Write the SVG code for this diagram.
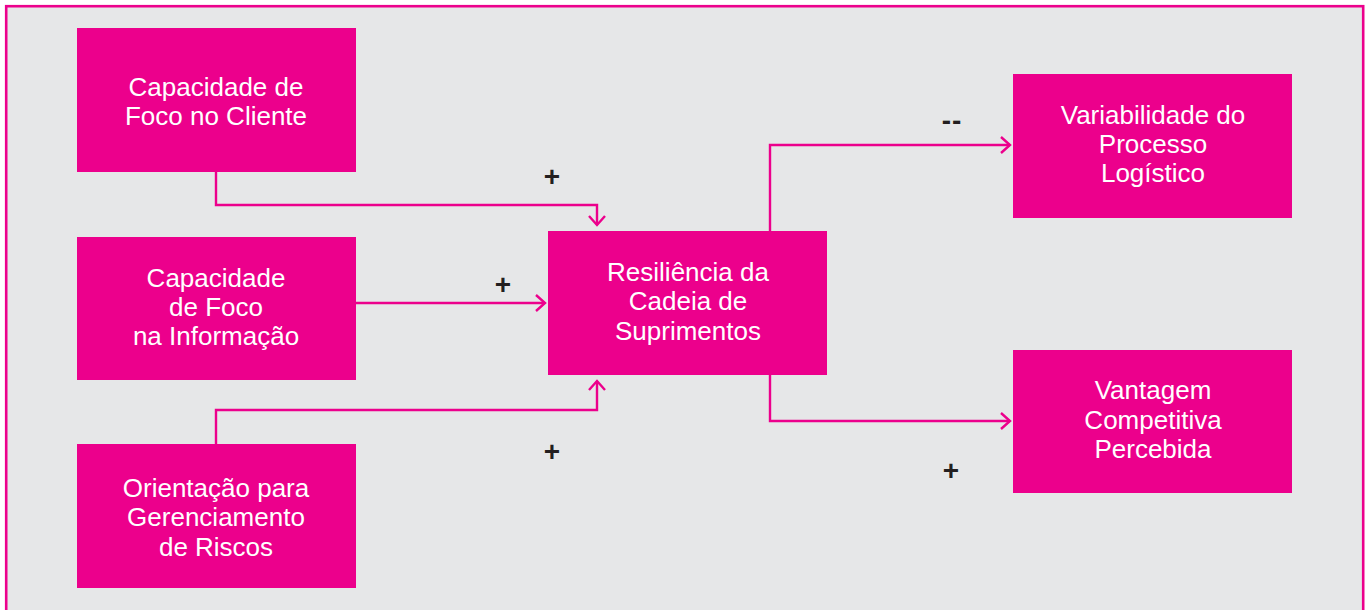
<svg xmlns="http://www.w3.org/2000/svg" width="1367" height="610" viewBox="0 0 1367 610">
<style>
.box{fill:#ec008c}
.t{font-family:"Liberation Sans",Arial,sans-serif;font-size:26px;fill:#ffffff;text-anchor:middle}
.s{font-family:"Liberation Sans",Arial,sans-serif;font-size:28px;font-weight:bold;fill:#231f20;text-anchor:middle}
.c{fill:none;stroke:#ec008c;stroke-width:2.4;marker-end:url(#a)}
</style>
<defs>
<marker id="a" viewBox="-12 -10 14 20" markerWidth="14" markerHeight="20" refX="0" refY="0" orient="auto" markerUnits="userSpaceOnUse">
<path d="M-9,-8 L0,0 L-9,8" fill="none" stroke="#ec008c" stroke-width="2.4"/>
</marker>
</defs>
<rect x="0" y="0" width="1367" height="610" fill="#ffffff"/>
<rect x="6.2" y="6.2" width="1357" height="620" fill="#e6e7e8" stroke="#ec008c" stroke-width="2.6"/>
<g id="connectors">
<path class="c" d="M216,172 V205 H597 V225"/>
<path class="c" d="M356,303 H545"/>
<path class="c" d="M216,444 V410 H597 V381"/>
<path class="c" d="M770,231 V145 H1010"/>
<path class="c" d="M770,375 V421 H1010"/>
</g>
<g id="signs">
<text class="s" x="552" y="186">+</text>
<text class="s" x="503" y="294">+</text>
<text class="s" x="552" y="461">+</text>
<text class="s" x="951" y="480">+</text>
<text class="s" x="952" y="130" letter-spacing="1">--</text>
</g>
<g id="n1">
<rect class="box" x="77" y="28" width="279" height="144"/>
<text class="t" x="216" y="96">Capacidade de</text>
<text class="t" x="216" y="125">Foco no Cliente</text>
</g>
<g id="n2">
<rect class="box" x="77" y="237" width="279" height="143"/>
<text class="t" x="216" y="287">Capacidade</text>
<text class="t" x="216" y="316">de Foco</text>
<text class="t" x="216" y="345">na Informação</text>
</g>
<g id="n3">
<rect class="box" x="77" y="444" width="279" height="144"/>
<text class="t" x="216" y="497">Orientação para</text>
<text class="t" x="216" y="526">Gerenciamento</text>
<text class="t" x="216" y="556">de Riscos</text>
</g>
<g id="n4">
<rect class="box" x="548" y="231" width="279" height="144"/>
<text class="t" x="688" y="281">Resiliência da</text>
<text class="t" x="688" y="310">Cadeia de</text>
<text class="t" x="688" y="340">Suprimentos</text>
</g>
<g id="n5">
<rect class="box" x="1013" y="74" width="279" height="144"/>
<text class="t" x="1153" y="124">Variabilidade do</text>
<text class="t" x="1153" y="153">Processo</text>
<text class="t" x="1153" y="182">Logístico</text>
</g>
<g id="n6">
<rect class="box" x="1013" y="350" width="279" height="143"/>
<text class="t" x="1153" y="399">Vantagem</text>
<text class="t" x="1153" y="429">Competitiva</text>
<text class="t" x="1153" y="458">Percebida</text>
</g>
</svg>
